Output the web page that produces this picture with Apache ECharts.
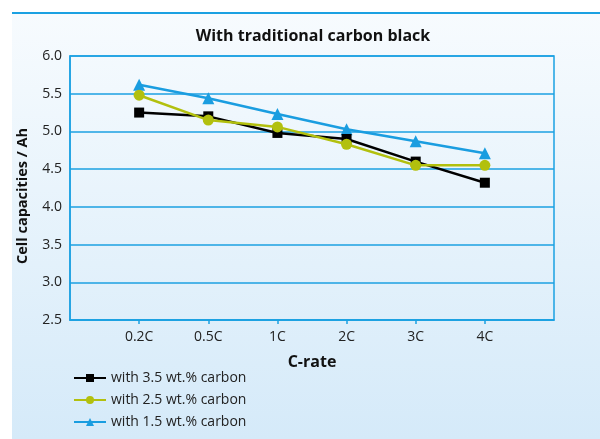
<!DOCTYPE html>
<html><head><meta charset="utf-8">
<script src="https://cdn.jsdelivr.net/npm/echarts@6/dist/echarts.min.js"></script>
<style>html,body{margin:0;padding:0;background:#fff}#c{width:600px;height:439px}</style>
</head><body><div id="c"></div>
<script>
var categories = ['0.2C', '0.5C', '1C', '2C', '3C', '4C'];
var carbon35 = [5.25, 5.20, 4.98, 4.90, 4.60, 4.32];
var carbon25 = [5.48, 5.15, 5.06, 4.83, 4.55, 4.55];
var carbon15 = [5.62, 5.44, 5.23, 5.03, 4.87, 4.71];
var yTicks = [2.5, 3.0, 3.5, 4.0, 4.5, 5.0, 5.5, 6.0];

var pad = function (a) { return [null].concat(a, [null]); };
var xData = [''].concat(categories, ['']);
var FONT = 'Open Sans';
var BLUE = '#1ba1e2';

var chart = echarts.init(document.getElementById('c'));
chart.setOption({
  animation: false,
  textStyle: { fontFamily: FONT },
  graphic: [
    { type: 'rect', z: -10, shape: { x: 12, y: 14, width: 588, height: 425 },
      style: { fill: new echarts.graphic.LinearGradient(0, 0, 0, 1, [
        { offset: 0, color: '#f7fbfe' }, { offset: 1, color: '#d5eaf9' }]) } },
    { type: 'line', z: -9, shape: { x1: 12, y1: 13, x2: 600, y2: 13 },
      style: { stroke: BLUE, lineWidth: 2 } }
  ],
  title: {
    text: 'With traditional carbon black', left: 308, textAlign: 'center', top: 23,
    textStyle: { fontFamily: FONT, fontSize: 16, fontWeight: 'bold', color: '#111' }
  },
  grid: { left: 70, right: 46, top: 56, bottom: 119, show: true, borderColor: BLUE, borderWidth: 1.5, backgroundColor: 'transparent' },
  legend: {
    orient: 'vertical', left: 68, top: 366, itemWidth: 32, itemHeight: 10, itemGap: 8,
    textStyle: { fontFamily: FONT, fontSize: 14, color: '#222' },
    data: ['with 3.5 wt.% carbon', 'with 2.5 wt.% carbon', 'with 1.5 wt.% carbon']
  },
  xAxis: {
    type: 'category', data: xData, boundaryGap: false,
    name: 'C-rate', nameLocation: 'middle', nameGap: 34,
    nameTextStyle: { fontFamily: FONT, fontSize: 16, fontWeight: 'bold', color: '#111' },
    axisLine: { lineStyle: { color: BLUE, width: 1.5 } },
    axisTick: { show: true, length: 4, interval: function (i) { return i > 0 && i < xData.length - 1; }, lineStyle: { color: BLUE, width: 1.5 } },
    axisLabel: { interval: 0, margin: 10, fontSize: 14, color: '#222', fontFamily: FONT },
    splitLine: { show: false }
  },
  yAxis: {
    type: 'value', min: yTicks[0], max: yTicks[yTicks.length - 1], interval: 0.5,
    name: 'Cell capacities / Ah', nameLocation: 'middle', nameGap: 40,
    nameTextStyle: { fontFamily: FONT, fontSize: 14.5, fontWeight: 'bold', color: '#111', padding: [0, 16, 0, 0] },
    axisLine: { show: true, lineStyle: { color: BLUE, width: 1.5 } },
    axisTick: { show: false },
    axisLabel: { margin: 8, fontSize: 14, color: '#222', fontFamily: FONT, formatter: function (v) { return v.toFixed(1); } },
    splitLine: { show: true, lineStyle: { color: BLUE, width: 1.5 } }
  },
  series: [
    { name: 'with 3.5 wt.% carbon', type: 'line', z: 3, data: pad(carbon35), symbol: 'rect', symbolSize: 10,
      lineStyle: { color: '#000', width: 2.5 }, itemStyle: { color: '#000' } },
    { name: 'with 2.5 wt.% carbon', type: 'line', z: 4, data: pad(carbon25), symbol: 'circle', symbolSize: 11,
      lineStyle: { color: '#b2c00e', width: 2.5 }, itemStyle: { color: '#b2c00e' } },
    { name: 'with 1.5 wt.% carbon', type: 'line', z: 2, data: pad(carbon15), symbol: 'triangle', symbolSize: 12,
      lineStyle: { color: '#1a9de0', width: 2.5 }, itemStyle: { color: '#1a9de0' } }
  ]
});
</script></body></html>
